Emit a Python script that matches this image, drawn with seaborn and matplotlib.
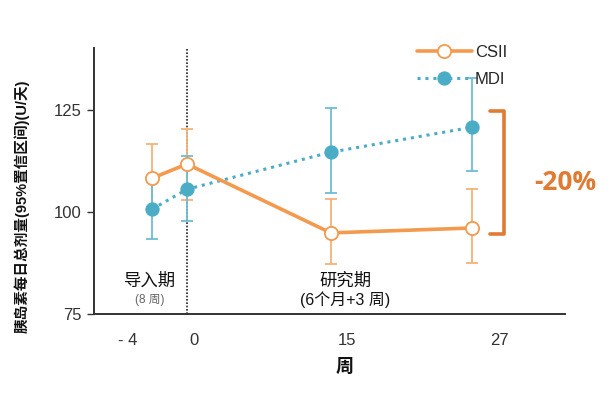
import numpy as np
import pandas as pd
import matplotlib
matplotlib.use("Agg")
import matplotlib.pyplot as plt
import matplotlib.transforms as mtrans
import seaborn as sns

# ---- data ----
weeks = [-4, 0, 15, 27]
week_labels = ["- 4", "0", "15", "27"]
csii_mean = [108.3, 111.8, 94.9, 96.1]
csii_lo = [100.0, 103.0, 87.3, 87.5]
csii_hi = [116.7, 120.5, 103.2, 105.6]
mdi_mean = [100.7, 105.6, 114.7, 120.8]
mdi_lo = [93.4, 97.8, 104.7, 110.0]
mdi_hi = [108.0, 113.7, 125.5, 133.0]
y_ticks = [75, 100, 125]

sns.set_theme(style="white")
plt.rcParams["font.family"] = ["Liberation Sans", "Noto Sans CJK SC", "DejaVu Sans"]

C_CSII = "#F39A4E"
C_CSII_ERR = "#F5B27A"
C_MDI = "#4BACC6"
C_MDI_ERR = "#6FBCD2"
C_ACC = "#E07B33"

df = pd.DataFrame({
    "week": weeks * 2,
    "value": csii_mean + mdi_mean,
    "lo": csii_lo + mdi_lo,
    "hi": csii_hi + mdi_hi,
    "group": ["CSII"] * 4 + ["MDI"] * 4,
})

fig = plt.figure(figsize=(6.16, 3.95), dpi=100)
ax = fig.add_axes([0.1526, 0.205, 0.917 - 0.1526, 0.878 - 0.205])

# piecewise-linear x scale (uneven spacing of weeks as in the original)
wk_knots = np.array([-100.0, -4.0, 0.0, 15.0, 27.0, 100.0])
u_core = np.array([0.0, 1.0, 5.11, 9.14])
s_first = (u_core[1] - u_core[0]) / 4.0
s_last = (u_core[3] - u_core[2]) / 12.0
u_knots = np.array([u_core[0] - 96 * s_first, *u_core, u_core[3] + 73 * s_last])
fwd = lambda w: np.interp(w, wk_knots, u_knots)
inv = lambda u: np.interp(u, u_knots, wk_knots)
ax.set_xscale("function", functions=(fwd, inv))

# error bars
for g, col in [("CSII", C_CSII_ERR), ("MDI", C_MDI_ERR)]:
    d = df[df.group == g]
    ax.errorbar(d.week, d.value, yerr=[d.value - d.lo, d.hi - d.value],
                fmt="none", ecolor=col, elinewidth=1.3, capsize=4.5,
                capthick=1.3, zorder=2)

# lines with markers via seaborn
sns.lineplot(data=df[df.group == "MDI"], x="week", y="value", ax=ax,
             color=C_MDI, linestyle=(0, (1, 1.6)), linewidth=2.2,
             marker="o", markersize=9.5, markerfacecolor=C_MDI,
             markeredgecolor=C_MDI, label="MDI", zorder=3)
sns.lineplot(data=df[df.group == "CSII"], x="week", y="value", ax=ax,
             color=C_CSII, linewidth=2.6, marker="o", markersize=9.5,
             markerfacecolor="white", markeredgecolor=C_CSII,
             markeredgewidth=1.3, label="CSII", zorder=4)

# vertical dotted separator at week 0
ax.axvline(0, color="#222222", linestyle=(0, (1, 1)), linewidth=1.2, zorder=1)

ax.set_xlim(-10.63, 34.92)
ax.set_ylim(75, 140.2)
ax.set_yticks(y_ticks)
ax.set_xticks(weeks)
ax.set_xticklabels(week_labels)
ax.tick_params(axis="y", which="both", left=True, length=5, width=1,
               color="#333333", labelsize=12, labelcolor="#333333", pad=4)
ax.tick_params(axis="x", length=0, labelsize=12, labelcolor="#333333", pad=14)
label_shift_px = [-24, 7, 16, 28]
for lab, dx in zip(ax.get_xticklabels(), label_shift_px):
    lab.set_transform(lab.get_transform() +
                      mtrans.ScaledTranslation(dx / 100, 0, fig.dpi_scale_trans))

sns.despine(ax=ax)
for s in ["left", "bottom"]:
    ax.spines[s].set_color("#333333")
    ax.spines[s].set_linewidth(1.4)
ax.set_xlabel("")
ax.set_ylabel("")

# legend
h, l = ax.get_legend_handles_labels()
order = [l.index("CSII"), l.index("MDI")]
ax.legend([h[i] for i in order], [l[i] for i in order],
          loc="upper left", bbox_to_anchor=(410 / 616, 1 - 38 / 395),
          bbox_transform=fig.transFigure, frameon=False, fontsize=12,
          handlelength=3.3, handletextpad=0.2, labelspacing=0.75,
          borderaxespad=0)

# period annotations
fig.text(150 / 616, 1 - 281 / 395, "导入期", ha="center", va="center",
         fontsize=12.5, color="#111111")
fig.text(150 / 616, 1 - 300 / 395, "(8 周)", ha="center", va="center",
         fontsize=8.5, color="#666666")
fig.text(345 / 616, 1 - 281 / 395, "研究期", ha="center", va="center",
         fontsize=12.5, color="#111111")
fig.text(345 / 616, 1 - 300 / 395, "(6个月+3 周)", ha="center", va="center",
         fontsize=11.5, color="#111111")

# bracket and -20%
bx = [490 / 616, 504 / 616, 504 / 616, 490 / 616]
by = [1 - 111 / 395, 1 - 111 / 395, 1 - 234 / 395, 1 - 234 / 395]
fig.add_artist(plt.Line2D(bx, by, color=C_ACC, linewidth=2.6,
                          transform=fig.transFigure))
fig.text(565 / 616, 1 - 183 / 395, "-20%", ha="center", va="center",
         fontsize=19, fontweight="bold", color=C_ACC,
         family=["Open Sans", "DejaVu Sans"])

# axis titles
fig.text(22 / 616, 1 - 206 / 395, "胰岛素每日总剂量(95%置信区间)(U/天)",
         rotation=90, ha="center", va="center", fontsize=10.5,
         fontweight="bold", color="#111111")
fig.text(345 / 616, 1 - 367 / 395, "周", ha="center", va="center",
         fontsize=13, fontweight="bold", color="#111111")

fig.savefig("out.png", dpi=100, facecolor="white")
